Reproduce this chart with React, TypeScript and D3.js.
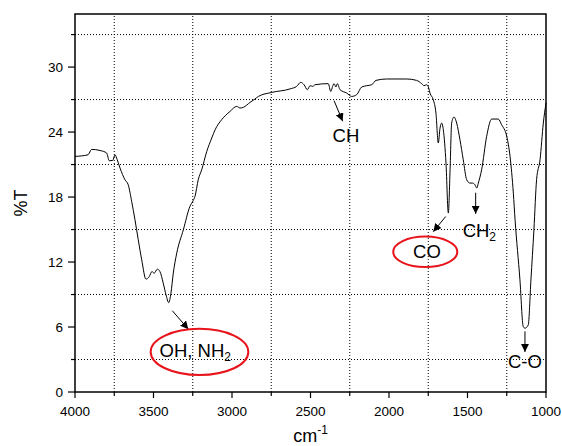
import React from "react"
import * as d3 from "d3"

// FTIR spectrum
const wavenumber = [
    4000, 3917, 3894, 3841, 3798, 3782, 3760, 3745, 3731, 3713, 3682, 3661, 3639, 3618, 3597, 3575,
    3548, 3527, 3510, 3495, 3476, 3459, 3438, 3420, 3403, 3389, 3374, 3352, 3310, 3268, 3247, 3236,
    3215, 3193, 3161, 3129, 3108, 3066, 3013, 2970, 2949, 2928, 2885, 2854, 2832, 2747, 2631, 2588,
    2562, 2541, 2520, 2503, 2486, 2471, 2387, 2371, 2359, 2350, 2338, 2329, 2312, 2269, 2238, 2206,
    2174, 2142, 2110, 2083, 2015, 1887, 1824, 1792, 1777, 1760, 1747, 1739, 1718, 1701, 1686, 1675,
    1664, 1654, 1637, 1622, 1611, 1601, 1586, 1569, 1548, 1527, 1505, 1484, 1467, 1452, 1441, 1431,
    1410, 1378, 1346, 1304, 1283, 1250, 1229, 1208, 1197, 1166, 1145, 1134, 1113, 1096, 1077, 1060,
    1038, 1017, 1000,
]
const transmittance = [
    21.75, 21.9, 22.4, 22.3, 22.06, 21.35, 21.38, 21.9, 21.44, 20.67, 19.6, 19.13, 17.59, 15.9, 14.05, 12.2,
    10.42, 10.66, 11.12, 10.97, 11.34, 11.12, 10.05, 8.96, 8.25, 9.12, 10.97, 12.82, 14.97, 17.13, 17.68, 18.05,
    19.6, 20.52, 22.2, 23.45, 24.2, 25.14, 25.9, 26.37, 26.22, 26.28, 26.74, 27.05, 27.29, 27.66, 27.98, 28.22,
    28.59, 28.37, 27.91, 28.28, 28.22, 28.37, 28.47, 27.75, 28.22, 28.47, 28.16, 28.47, 27.91, 27.6, 27.29, 27.45,
    28.16, 28.28, 28.37, 28.77, 28.9, 28.9, 28.77, 28.47, 28.28, 28.37, 28.07, 27.6, 26.99, 25.76, 22.99, 24.37,
    24.83, 24.21, 21.14, 16.52, 20.52, 24.83, 25.39, 24.83, 23.29, 21.44, 19.59, 19.29, 19.29, 19.13, 18.83, 19.29,
    20.52, 23.6, 25.2, 25.2, 24.68, 23.6, 21.75, 18.36, 15.9, 10.35, 6.04, 5.89, 6.19, 10.35, 14.97, 19.6,
    21.44, 24.83, 26.68,
]

const xMajorTicks = [4000, 3500, 3000, 2500, 2000, 1500, 1000]
const xMinorTicks = [3750, 3250, 2750, 2250, 1750, 1250]
const yMajorTicks = [0, 6, 12, 18, 24, 30]
const yMinorTicks = [3, 9, 15, 21, 27, 33]

// arrows: [fromW, fromT, toW, toT]
const arrows = [
    [2350, 26.9, 2295, 25.0],
    [3380, 7.5, 3278, 5.8],
    [1639, 16.2, 1718, 14.8],
    [1448, 18.4, 1448, 16.45],
    [1134, 5.6, 1134, 3.7],
]
// red ellipses: [centerW, centerT, radiusW, radiusT]
const ellipses = [
    [3207, 3.7, 311, 2.13],
    [1769, 12.94, 204, 1.41],
]

const width = 562
const height = 446
const margin = { top: 14, right: 16, bottom: 54, left: 75 }
const font = "'Liberation Sans', Arial, sans-serif"

export default function App() {
    const x = d3.scaleLinear().domain([4000, 1000]).range([margin.left, width - margin.right])
    const y = d3.scaleLinear().domain([0, 34.9]).range([height - margin.bottom, margin.top])

    const points: [number, number][] = wavenumber.map((w, i) => [w, transmittance[i]])
    const line = d3.line<[number, number]>()
        .x(d => x(d[0]))
        .y(d => y(d[1]))
        .curve(d3.curveMonotoneX)

    const x0 = x.range()[0], x1 = x.range()[1]
    const y0 = y.range()[0], y1 = y.range()[1]

    return (
        <svg width={width} height={height} style={{ position: "absolute", left: 0, top: 0, background: "#fff" }}
             fontFamily={font}>
            <defs>
                <marker id="head" viewBox="0 0 10 10" refX="10" refY="5" markerWidth="8" markerHeight="8"
                        markerUnits="userSpaceOnUse" orient="auto">
                    <path d="M0,0 L10,5 L0,10 z" fill="#000"/>
                </marker>
            </defs>

            {/* grid */}
            <g stroke="#000" strokeWidth={1} strokeDasharray="1,2">
                {xMinorTicks.map(t => <line key={t} x1={x(t)} x2={x(t)} y1={y0} y2={y1}/>)}
                {yMinorTicks.map(t => <line key={t} x1={x0} x2={x1} y1={y(t)} y2={y(t)}/>)}
            </g>

            {/* spectrum */}
            <path d={line(points) ?? ""} fill="none" stroke="#000" strokeWidth={1}/>

            {/* frame */}
            <rect x={x0} y={y1} width={x1 - x0} height={y0 - y1} fill="none" stroke="#000" strokeWidth={1.5}/>

            {/* ticks */}
            <g stroke="#000" strokeWidth={1.2}>
                {xMajorTicks.map(t => <line key={t} x1={x(t)} x2={x(t)} y1={y0} y2={y0 + 6}/>)}
                {xMinorTicks.map(t => <line key={t} x1={x(t)} x2={x(t)} y1={y0} y2={y0 + 4}/>)}
                {yMajorTicks.map(t => <line key={t} x1={x0 - 7} x2={x0} y1={y(t)} y2={y(t)}/>)}
                {yMinorTicks.map(t => <line key={t} x1={x0 - 4} x2={x0} y1={y(t)} y2={y(t)}/>)}
            </g>
            <g fontSize={13.5} fill="#000">
                {xMajorTicks.map(t => <text key={t} x={x(t)} y={y0 + 24} textAnchor="middle">{t}</text>)}
                {yMajorTicks.map(t => <text key={t} x={x0 - 12} y={y(t) + 5} textAnchor="end">{t}</text>)}
            </g>

            {/* axis titles */}
            <text x={(x0 + x1) / 2} y={height - 4} textAnchor="middle" fontSize={18}>
                cm<tspan fontSize={12} dy={-8}>-1</tspan>
            </text>
            <text transform={`translate(27, ${(y0 + y1) / 2}) rotate(-90)`} textAnchor="middle" fontSize={18}>%T</text>

            {/* annotations */}
            <g stroke="#000" strokeWidth={1}>
                {arrows.map((a, i) => (
                    <line key={i} x1={x(a[0])} y1={y(a[1])} x2={x(a[2])} y2={y(a[3])} markerEnd="url(#head)"/>
                ))}
            </g>
            <g fill="none" stroke="#e8141c" strokeWidth={2}>
                {ellipses.map((e, i) => (
                    <ellipse key={i} cx={x(e[0])} cy={y(e[1])}
                             rx={Math.abs(x(e[0] + e[2]) - x(e[0]))} ry={Math.abs(y(e[1] + e[3]) - y(e[1]))}/>
                ))}
            </g>
            <g fontSize={18.5} fill="#000">
                <text x={x(2274)} y={y(23.1)} textAnchor="middle">CH</text>
                <text x={x(3234)} y={y(3.21)} textAnchor="middle">
                    OH, NH<tspan fontSize={12} dy={4}>2</tspan>
                </text>
                <text x={x(1758)} y={y(12.36)} textAnchor="middle">CO</text>
                <text x={x(1531)} y={y(14.35)}>
                    CH<tspan fontSize={12} dy={4}>2</tspan>
                </text>
                <text x={x(1134)} y={y(2.19)} textAnchor="middle">C-O</text>
            </g>
        </svg>
    )
}
